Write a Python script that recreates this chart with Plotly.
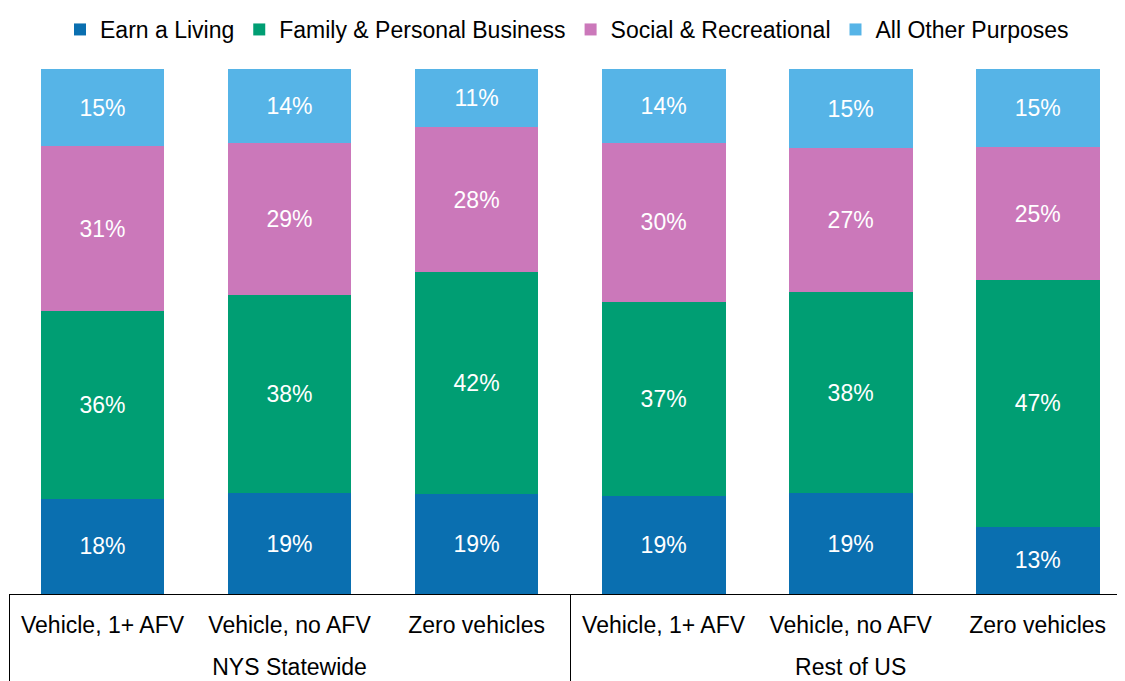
import plotly.graph_objects as go

groups = ["NYS Statewide", "Rest of US"]
categories = ["Vehicle, 1+ AFV", "Vehicle, no AFV", "Zero vehicles"] * 2
positions = list(range(len(categories)))
group_centers = [1, 4]
group_edges = [-0.5, 2.5, 5.5]

earn_a_living = [18.1, 19.2, 19.0, 18.6, 19.2, 12.8]
family_personal = [35.8, 37.7, 42.3, 37.1, 38.3, 47.0]
social_recreational = [31.4, 29.0, 27.6, 30.3, 27.4, 25.3]
all_other = [14.7, 14.1, 11.1, 14.0, 15.1, 14.9]

series_names = ["Earn a Living", "Family & Personal Business",
                "Social & Recreational", "All Other Purposes"]
series_values = [earn_a_living, family_personal, social_recreational, all_other]
colors = ["#0A6FB0", "#009E73", "#CB78BA", "#56B4E7"]

FONT = "Liberation Sans, Arial, sans-serif"
FS = 23

fig = go.Figure()
for name, vals, col in zip(series_names, series_values, colors):
    fig.add_trace(go.Bar(
        x=positions,
        y=vals,
        name=name,
        marker=dict(color=col, line=dict(width=0)),
        texttemplate="%{y:.0f}%",
        textposition="inside",
        insidetextanchor="middle",
        textfont=dict(color="white", size=FS, family=FONT),
        constraintext="none",
    ))

# invisible helper traces so the overlay axes are drawn
fig.add_trace(go.Scatter(x=group_centers, y=[0, 0], xaxis="x2", mode="markers",
                         marker=dict(opacity=0), showlegend=False, hoverinfo="skip"))
fig.add_trace(go.Scatter(x=group_centers, y=[0, 0], xaxis="x3", mode="markers",
                         marker=dict(opacity=0), showlegend=False, hoverinfo="skip"))

xr = [-0.5, 5.467]
fig.update_layout(
    barmode="stack",
    bargap=0.338,
    width=1117,
    height=673,
    margin=dict(l=1, r=0, t=61, b=87),
    paper_bgcolor="white",
    plot_bgcolor="white",
    font=dict(family=FONT, size=FS, color="black"),
    showlegend=True,
    legend=dict(
        orientation="h",
        x=0.5, xanchor="center",
        y=1.0, yanchor="top",
        yref="container",
        font=dict(size=FS, family=FONT, color="black"),
        traceorder="normal",
        itemwidth=30,
        tracegroupgap=0,
    ),
    xaxis=dict(
        range=xr,
        tickmode="array",
        tickvals=positions,
        ticktext=categories,
        showline=True,
        linecolor="black",
        linewidth=1,
        ticks="",
        ticklabelstandoff=10,
        tickfont=dict(size=FS, family=FONT, color="black"),
        showgrid=False,
        zeroline=False,
    ),
    xaxis2=dict(
        overlaying="x",
        matches="x",
        anchor="y",
        side="bottom",
        tickmode="array",
        tickvals=group_centers,
        ticktext=groups,
        ticks="",
        ticklabelstandoff=57,
        tickfont=dict(size=FS, family=FONT, color="black"),
        showline=False,
        showgrid=False,
        zeroline=False,
    ),
    xaxis3=dict(
        overlaying="x",
        matches="x",
        anchor="y",
        side="bottom",
        tickmode="array",
        tickvals=group_edges,
        ticks="outside",
        ticklen=87,
        tickwidth=1,
        tickcolor="black",
        showticklabels=False,
        showline=False,
        showgrid=False,
        zeroline=False,
    ),
    yaxis=dict(
        range=[0, 100],
        visible=False,
        showgrid=False,
    ),
)

fig.write_html("out.html")
